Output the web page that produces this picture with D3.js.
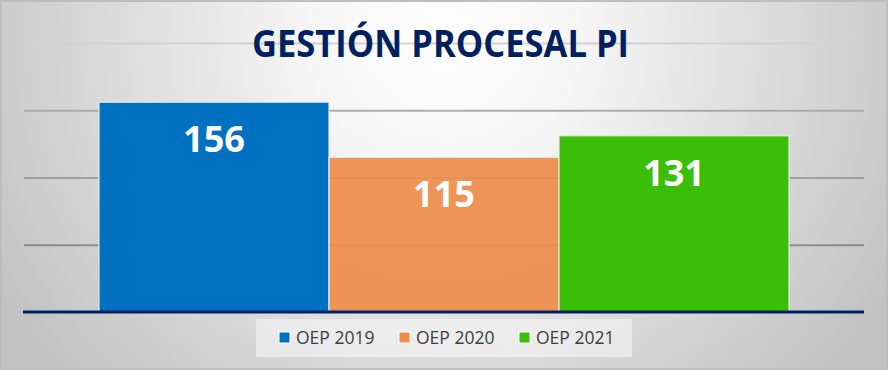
<!DOCTYPE html>
<html>
<head>
<meta charset="utf-8">
<script src="https://cdn.jsdelivr.net/npm/d3@7"></script>
<style>
  html, body { margin: 0; padding: 0; background: #fff; }
  svg { display: block; }
</style>
</head>
<body>
<svg id="chart" width="888" height="370"></svg>
<script>
const title = "GESTIÓN PROCESAL PI";
const series = ["OEP 2019", "OEP 2020", "OEP 2021"];
const values = [156, 115, 131];
const colors = ["#0070c0", "#ee8d4e", "#3bbf06"];
const gridTicks = [50, 100, 150, 200];

const W = 888, H = 370;
const svg = d3.select("#chart");
const defs = svg.append("defs");

const bg = defs.append("radialGradient")
  .attr("id", "bg").attr("gradientUnits", "userSpaceOnUse")
  .attr("cx", 444).attr("cy", 40).attr("r", 520)
  .attr("gradientTransform", "translate(444,40) scale(1,0.95) translate(-444,-40)");
bg.append("stop").attr("offset", "0").attr("stop-color", "#ffffff");
bg.append("stop").attr("offset", "0.25").attr("stop-color", "#f6f6f6");
bg.append("stop").attr("offset", "1").attr("stop-color", "#c2c2c2");

svg.append("rect").attr("x", 0).attr("y", 0).attr("width", W).attr("height", H)
  .attr("fill", "url(#bg)");
svg.append("rect").attr("x", 1).attr("y", 1).attr("width", W - 2).attr("height", H - 2)
  .attr("fill", "none").attr("stroke", "#bdbdbd").attr("stroke-width", 2);

const y = d3.scaleLinear().domain([0, 200]).range([312, 43]);
const x = d3.scaleBand().domain(series).range([24, 864])
  .paddingInner(0).paddingOuter(0.326);

const gridColor = d3.scaleLinear().domain([50, 100, 150, 200])
  .range(["#8c8c8c", "#9f9f9f", "#ababab", "#d2d2d2"]);

// gridlines via axis
const gridAxis = d3.axisLeft(y).tickValues(gridTicks).tickSize(-(864 - 24)).tickFormat("");
const g = svg.append("g").attr("transform", "translate(24,0)").call(gridAxis);
g.select(".domain").remove();
g.selectAll(".tick line")
  .attr("stroke", d => gridColor(d))
  .attr("stroke-width", 2);

// bars
svg.append("g").selectAll("rect").data(series).join("rect")
  .attr("x", d => x(d))
  .attr("y", (d, i) => y(values[i]))
  .attr("width", x.bandwidth())
  .attr("height", (d, i) => y(0) - y(values[i]))
  .attr("fill", (d, i) => colors[i])
  .attr("fill-opacity", (d, i) => i === 1 ? 0.93 : 1)
  .attr("stroke", "#e8e8e8")
  .attr("stroke-width", 1.2);

// baseline
svg.append("line").attr("x1", 23).attr("x2", 864)
  .attr("y1", y(0)).attr("y2", y(0))
  .attr("stroke", "#002060").attr("stroke-width", 3);

// data labels
svg.append("g").selectAll("text").data(series).join("text")
  .attr("x", d => x(d) + x.bandwidth() / 2)
  .attr("y", (d, i) => y(values[i]) + 50)
  .attr("text-anchor", "middle")
  .attr("font-family", "'Open Sans', sans-serif")
  .attr("font-weight", 700)
  .attr("font-size", 36)
  .attr("fill", "#ffffff")
  .text((d, i) => values[i]);

// title
svg.append("text")
  .attr("x", 440.5).attr("y", 57)
  .attr("text-anchor", "middle")
  .attr("font-family", "'Open Sans', sans-serif")
  .attr("font-weight", 700)
  .attr("font-size", 37)
  .attr("fill", "#002060")
  .attr("textLength", 377)
  .attr("lengthAdjust", "spacingAndGlyphs")
  .text(title);

// legend
svg.append("rect").attr("x", 256).attr("y", 319).attr("width", 376).attr("height", 38)
  .attr("fill", "#ffffff").attr("fill-opacity", 0.45);
const lx = d3.scaleBand().domain(series).range([279, 639]);
const leg = svg.append("g").selectAll("g").data(series).join("g")
  .attr("transform", d => `translate(${lx(d)},332)`);
leg.append("rect").attr("width", 11).attr("height", 11)
  .attr("fill", (d, i) => colors[i]).attr("stroke", "#ffffff").attr("stroke-width", 1);
leg.append("text").attr("x", 17).attr("y", 11.5)
  .attr("font-family", "'Open Sans', sans-serif")
  .attr("font-size", 17.5)
  .attr("fill", "#404040")
  .text(d => d);
</script>
</body>
</html>
